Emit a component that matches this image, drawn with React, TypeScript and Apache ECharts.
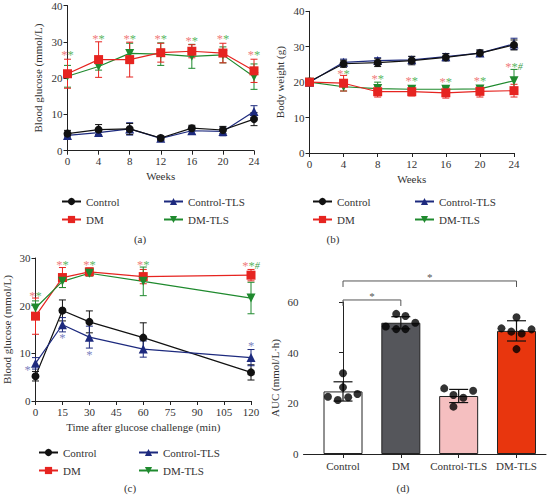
import React, { useEffect, useRef } from "react";
import * as echarts from "echarts";

const FONT = '"Liberation Serif", "DejaVu Serif", serif';

// ---------- Panel (a): blood glucose over weeks ----------
const weeks = [0, 4, 8, 12, 16, 20, 24];
const aControl = [4.7, 5.8, 6.0, 3.5, 6.2, 5.7, 8.7];
const aControlErr = [0.9, 1.4, 1.5, 0.6, 0.8, 1.0, 1.8];
const aControlTLS = [4.2, 5.0, 6.0, 3.4, 5.5, 5.3, 10.8];
const aControlTLSErr = [0.8, 1.0, 1.7, 0.5, 1.0, 1.2, 1.6];
const aDM = [21.2, 25.1, 25.1, 27.0, 27.4, 26.9, 22.0];
const aDMErr = [4.0, 4.9, 4.8, 2.6, 1.8, 2.7, 3.2];
const aDMTLS = [20.5, 23.2, 26.8, 26.6, 26.0, 26.4, 20.4];
const aDMTLSErr = [3.0, 1.0, 2.8, 3.1, 3.3, 2.2, 3.5];
const aStarX = [0, 4, 8, 12, 16, 20, 24];
const aStarY = [26.4, 30.7, 30.7, 30.7, 30.2, 30.7, 26.3];
const aStarMarks = ["**", "**", "**", "**", "**", "**", "**"];

// ---------- Panel (b): body weight ----------
const bControl = [20.2, 25.2, 25.5, 26.1, 27.0, 28.2, 30.5];
const bControlErr = [0.6, 1.0, 1.1, 1.2, 1.0, 0.9, 1.4];
const bControlTLS = [20.0, 25.6, 26.1, 26.3, 27.2, 28.2, 30.8];
const bControlTLSErr = [0.5, 0.9, 0.8, 0.9, 0.9, 0.8, 1.6];
const bDM = [20.0, 19.7, 17.3, 17.3, 17.0, 17.4, 17.6];
const bDMErr = [0.5, 2.2, 1.5, 1.2, 1.5, 1.6, 1.8];
const bDMTLS = [20.0, 18.7, 18.2, 18.0, 18.0, 18.1, 20.4];
const bDMTLSErr = [0.4, 1.2, 1.8, 0.8, 0.8, 0.8, 3.2];
const bStarX = [4, 8, 12, 16, 20, 24];
const bStarY = [22.4, 20.8, 20.4, 20.1, 20.4, 24.4];
const bStarMarks = ["**", "**", "**", "**", "**", "**#"];

// ---------- Panel (c): OGTT ----------
const minutes = [0, 15, 30, 60, 120];
const cControl = [5.2, 19.0, 16.6, 13.3, 6.0];
const cControlErr = [1.0, 2.2, 2.3, 3.1, 1.6];
const cControlTLS = [7.9, 16.0, 13.4, 10.9, 9.1];
const cControlTLSErr = [1.2, 1.5, 2.3, 1.7, 1.7];
const cDM = [17.8, 25.9, 27.1, 26.1, 26.4];
const cDMErr = [3.8, 2.1, 0.8, 1.5, 1.2];
const cDMTLS = [19.5, 25.1, 26.8, 25.1, 21.6];
const cDMTLSErr = [1.5, 1.3, 0.6, 3.0, 3.3];
const cStarX = [0, 15, 30, 60, 120];
const cStarY = [22.1, 28.5, 28.5, 28.5, 28.4];
const cStarMarks = ["**", "**", "**", "**", "**#"];
const cBlueStarX = [0, 15, 30, 120];
const cBlueStarY = [6.6, 13.3, 9.7, 11.6];
const cBlueStarDx = [-8, 0, 0, 0];

// ---------- Panel (d): AUC ----------
const dCats = ["Control", "DM", "Control-TLS", "DM-TLS"];
const dMeans = [24.7, 51.8, 22.9, 48.6];
const dSD = [3.8, 2.4, 2.6, 4.0];
const dColors = ["#ffffff", "#55565b", "#f5bfc0", "#e8360e"];
const dDots = [
  [22.6, 31.9, 26.3, 21.3, 22.4, 23.7],
  [50.3, 55.3, 54.5, 49.3, 49.3, 51.8],
  [25.9, 23.3, 22.2, 18.7, 25.0],
  [49.6, 54.0, 48.3, 47.6, 49.2, 41.4],
];
const dJitter = [
  [-0.26, 0, 0, -0.09, 0.09, 0.25],
  [-0.26, -0.08, 0.08, -0.08, 0.08, 0.25],
  [-0.25, -0.09, 0.08, -0.09, 0.25],
  [-0.26, 0, -0.09, 0.09, 0.26, 0],
];
const dBrackets = [
  [0, 1, 60.8],
  [0, 3, 68.3],
];
const dBracketMarks = ["*", "*"];

const STYLE: Record<string, any> = {
  Control: { color: "#111111", symbol: "circle", size: 8, rotate: 0 },
  "Control-TLS": { color: "#1d2a7e", symbol: "triangle", size: 9, rotate: 0 },
  DM: { color: "#e62420", symbol: "rect", size: 9, rotate: 0 },
  "DM-TLS": { color: "#1f8a2e", symbol: "triangle", size: 9, rotate: 180 },
};

function errSeries(panel: number, xs: number[], vals: number[], errs: number[], color: string, cap = 7) {
  return {
    type: "custom",
    xAxisIndex: panel,
    yAxisIndex: panel,
    silent: true,
    clip: false,
    z: 1,
    encode: { x: 0, y: [1, 2] },
    data: xs.map((x, i) => [x, vals[i] - errs[i], vals[i] + errs[i]]),
    renderItem: (params: any, api: any) => {
      const x = api.value(0);
      const lo = api.coord([x, api.value(1)]);
      const hi = api.coord([x, api.value(2)]);
      const st = { stroke: color, lineWidth: 1 };
      return {
        type: "group",
        children: [
          { type: "line", shape: { x1: lo[0], y1: lo[1], x2: hi[0], y2: hi[1] }, style: st },
          { type: "line", shape: { x1: lo[0] - cap / 2, y1: lo[1], x2: lo[0] + cap / 2, y2: lo[1] }, style: st },
          { type: "line", shape: { x1: hi[0] - cap / 2, y1: hi[1], x2: hi[0] + cap / 2, y2: hi[1] }, style: st },
        ],
      };
    },
  };
}

function lineSeries(panel: number, xs: number[], name: string, vals: number[]) {
  const s = STYLE[name];
  return {
    type: "line",
    name,
    xAxisIndex: panel,
    yAxisIndex: panel,
    data: xs.map((x, i) => [x, vals[i]]),
    symbol: s.symbol,
    symbolSize: s.size,
    symbolRotate: s.rotate,
    itemStyle: { color: s.color },
    lineStyle: { color: s.color, width: 1.2 },
    z: 2,
  };
}

function group(panel: number, xs: number[], name: string, vals: number[], errs: number[]) {
  return [errSeries(panel, xs, vals, errs, STYLE[name].color), lineSeries(panel, xs, name, vals)];
}

const starRich = {
  r: { fill: "#f07c7c", fontSize: 12.5, fontFamily: FONT },
  g: { fill: "#5cb865", fontSize: 12.5, fontFamily: FONT },
  h: { fill: "#3e9e48", fontSize: 10, fontFamily: FONT, fontStyle: "italic" },
};

function markText(m: string) {
  const cls = ["r", "g", "h"];
  return m
    .split("")
    .map((ch, i) => `{${cls[i]}|${ch}}`)
    .join("");
}

function starSeries(panel: number, xs: number[], ys: number[], marks: string[]) {
  return {
    type: "custom",
    xAxisIndex: panel,
    yAxisIndex: panel,
    silent: true,
    clip: false,
    z: 5,
    encode: { x: 0, y: 1 },
    data: xs.map((x, i) => [x, ys[i]]),
    renderItem: (params: any, api: any) => {
      const p = api.coord([api.value(0), api.value(1)]);
      return {
        type: "text",
        x: p[0],
        y: p[1],
        style: {
          text: markText(marks[params.dataIndex]),
          rich: starRich,
          align: "center",
          verticalAlign: "middle",
        },
      };
    },
  };
}

function blueStarSeries() {
  return {
    type: "custom",
    xAxisIndex: 2,
    yAxisIndex: 2,
    silent: true,
    clip: false,
    z: 5,
    encode: { x: 0, y: 1 },
    data: cBlueStarX.map((x, i) => [x, cBlueStarY[i]]),
    renderItem: (params: any, api: any) => {
      const p = api.coord([api.value(0), api.value(1)]);
      return {
        type: "text",
        x: p[0] + cBlueStarDx[params.dataIndex],
        y: p[1],
        style: { text: "*", fill: "#7b83c0", fontSize: 12.5, fontFamily: FONT, align: "center", verticalAlign: "middle" },
      };
    },
  };
}

const axisText = { fontFamily: FONT, fontSize: 11, color: "#333" };

function xAxisCfg(grid: number, min: number, max: number, interval: number, name: string) {
  return {
    type: "value",
    gridIndex: grid,
    min,
    max,
    interval,
    name,
    nameLocation: "middle",
    nameGap: 20,
    nameTextStyle: axisText,
    axisLine: { show: true, lineStyle: { color: "#222", width: 1 } },
    axisTick: { show: true, length: 4, lineStyle: { color: "#222" } },
    axisLabel: { ...axisText, margin: 5 },
    splitLine: { show: false },
  };
}

function yAxisCfg(grid: number, max: number, interval: number, name: string, gap: number) {
  return {
    type: "value",
    gridIndex: grid,
    min: 0,
    max,
    interval,
    name,
    nameLocation: "middle",
    nameGap: gap,
    nameTextStyle: axisText,
    axisLine: { show: true, lineStyle: { color: "#222", width: 1 } },
    axisTick: { show: true, length: 4, lineStyle: { color: "#222" } },
    axisLabel: { ...axisText, margin: 5 },
    splitLine: { show: false },
  };
}

function legendPair(names: string[], left: number, top: number) {
  return {
    data: names,
    orient: "vertical",
    left,
    top,
    padding: 0,
    itemWidth: 19,
    itemHeight: 9,
    itemGap: 7,
    selectedMode: false,
    textStyle: { ...axisText },
  };
}

function panelTitle(text: string, left: number, top: number) {
  return {
    text,
    left,
    top,
    padding: 0,
    textAlign: "center",
    textStyle: { ...axisText, fontWeight: "normal" },
  };
}

export default function App() {
  const ref = useRef<HTMLDivElement>(null);
  useEffect(() => {
    if (!ref.current) return;
    const chart = echarts.init(ref.current, null, { renderer: "svg" });

    const series: any[] = [
      // (a)
      ...group(0, weeks, "Control-TLS", aControlTLS, aControlTLSErr),
      ...group(0, weeks, "Control", aControl, aControlErr),
      ...group(0, weeks, "DM-TLS", aDMTLS, aDMTLSErr),
      ...group(0, weeks, "DM", aDM, aDMErr),
      starSeries(0, aStarX, aStarY, aStarMarks),
      // (b)
      ...group(1, weeks, "Control-TLS", bControlTLS, bControlTLSErr),
      ...group(1, weeks, "Control", bControl, bControlErr),
      ...group(1, weeks, "DM-TLS", bDMTLS, bDMTLSErr),
      ...group(1, weeks, "DM", bDM, bDMErr),
      starSeries(1, bStarX, bStarY, bStarMarks),
      // (c)
      ...group(2, minutes, "Control", cControl, cControlErr),
      ...group(2, minutes, "Control-TLS", cControlTLS, cControlTLSErr),
      ...group(2, minutes, "DM", cDM, cDMErr),
      ...group(2, minutes, "DM-TLS", cDMTLS, cDMTLSErr),
      starSeries(2, cStarX, cStarY, cStarMarks),
      blueStarSeries(),
      // (d)
      {
        type: "bar",
        xAxisIndex: 3,
        yAxisIndex: 3,
        barWidth: 39,
        silent: true,
        z: 1,
        data: dMeans.map((v, i) => ({
          value: [i, v],
          itemStyle: { color: dColors[i], borderColor: "#222", borderWidth: 1 },
        })),
      },
      {
        type: "custom",
        xAxisIndex: 3,
        yAxisIndex: 3,
        silent: true,
        z: 3,
        encode: { x: 0, y: [1, 2] },
        data: dMeans.map((v, i) => [i, v - dSD[i], v + dSD[i]]),
        renderItem: (params: any, api: any) => {
          const x = api.value(0);
          const lo = api.coord([x, api.value(1)]);
          const hi = api.coord([x, api.value(2)]);
          const st = { stroke: "#111", lineWidth: 1.2 };
          const cap = 19;
          return {
            type: "group",
            children: [
              { type: "line", shape: { x1: lo[0], y1: lo[1], x2: hi[0], y2: hi[1] }, style: st },
              { type: "line", shape: { x1: lo[0] - cap / 2, y1: lo[1], x2: lo[0] + cap / 2, y2: lo[1] }, style: st },
              { type: "line", shape: { x1: hi[0] - cap / 2, y1: hi[1], x2: hi[0] + cap / 2, y2: hi[1] }, style: st },
            ],
          };
        },
      },
      {
        type: "scatter",
        xAxisIndex: 3,
        yAxisIndex: 3,
        silent: true,
        z: 4,
        symbol: "circle",
        symbolSize: 8,
        itemStyle: { color: "#000" },
        data: dDots.flatMap((arr, g) => arr.map((v, k) => [g + dJitter[g][k], v])),
      },
      {
        type: "custom",
        xAxisIndex: 3,
        yAxisIndex: 3,
        silent: true,
        clip: false,
        z: 5,
        encode: { x: [0, 1], y: 2 },
        data: dBrackets,
        renderItem: (params: any, api: any) => {
          const p1 = api.coord([api.value(0), api.value(2)]);
          const p2 = api.coord([api.value(1), api.value(2)]);
          const drop = 6;
          return {
            type: "group",
            children: [
              {
                type: "polyline",
                shape: {
                  points: [
                    [p1[0], p1[1] + drop],
                    [p1[0], p1[1]],
                    [p2[0], p2[1]],
                    [p2[0], p2[1] + drop],
                  ],
                },
                style: { stroke: "#555", lineWidth: 1, fill: null },
              },
              {
                type: "text",
                x: (p1[0] + p2[0]) / 2,
                y: p1[1] - 4,
                style: {
                  text: dBracketMarks[params.dataIndex],
                  fontFamily: FONT,
                  fontSize: 11,
                  fill: "#555",
                  align: "center",
                  verticalAlign: "middle",
                },
              },
            ],
          };
        },
      },
    ];

    chart.setOption({
      animation: false,
      backgroundColor: "#ffffff",
      textStyle: { fontFamily: FONT },
      title: [
        panelTitle("(a)", 140, 233),
        panelTitle("(b)", 333, 233),
        panelTitle("(c)", 130, 482),
        panelTitle("(d)", 403, 482),
      ],
      grid: [
        { left: 67.5, top: 4.7, width: 186.5, height: 146 },
        { left: 309.5, top: 11.3, width: 204.5, height: 141.7 },
        { left: 35.5, top: 258, width: 215.5, height: 143 },
        { left: 303.5, top: 302, width: 242.5, height: 152 },
      ],
      xAxis: [
        xAxisCfg(0, 0, 24, 4, "Weeks"),
        xAxisCfg(1, 0, 24, 4, "Weeks"),
        xAxisCfg(2, 0, 120, 15, "Time after glucose challenge (min)"),
        {
          type: "value",
          gridIndex: 3,
          min: -0.683,
          max: 3.51,
          axisLine: { show: true, lineStyle: { color: "#222", width: 1 } },
          axisTick: { show: true, length: 4, lineStyle: { color: "#222" }, customValues: [0, 1, 2, 3] },
          axisLabel: {
            ...axisText,
            margin: 6,
            customValues: [0, 1, 2, 3],
            formatter: (v: number) => dCats[Math.round(v)] ?? "",
          },
          splitLine: { show: false },
        },
      ],
      yAxis: [
        yAxisCfg(0, 40, 10, "Blood glucose (mmol/L)", 24),
        yAxisCfg(1, 40, 10, "Body weight (g)", 24),
        yAxisCfg(2, 30, 10, "Blood glucose (mmol/L)", 23),
        yAxisCfg(3, 60, 20, "AUC (mmol/L·h)", 23),
      ],
      legend: [
        legendPair(["Control", "DM"], 61, 196),
        legendPair(["Control-TLS", "DM-TLS"], 163, 196),
        legendPair(["Control", "DM"], 312, 196),
        legendPair(["Control-TLS", "DM-TLS"], 414, 196),
        legendPair(["Control", "DM"], 38, 447),
        legendPair(["Control-TLS", "DM-TLS"], 138, 447),
      ],
      series,
    });

    return () => chart.dispose();
  }, []);

  return (
    <div
      ref={ref}
      style={{ position: "absolute", left: 0, top: 0, width: 556, height: 495, background: "#fff" }}
    />
  );
}
